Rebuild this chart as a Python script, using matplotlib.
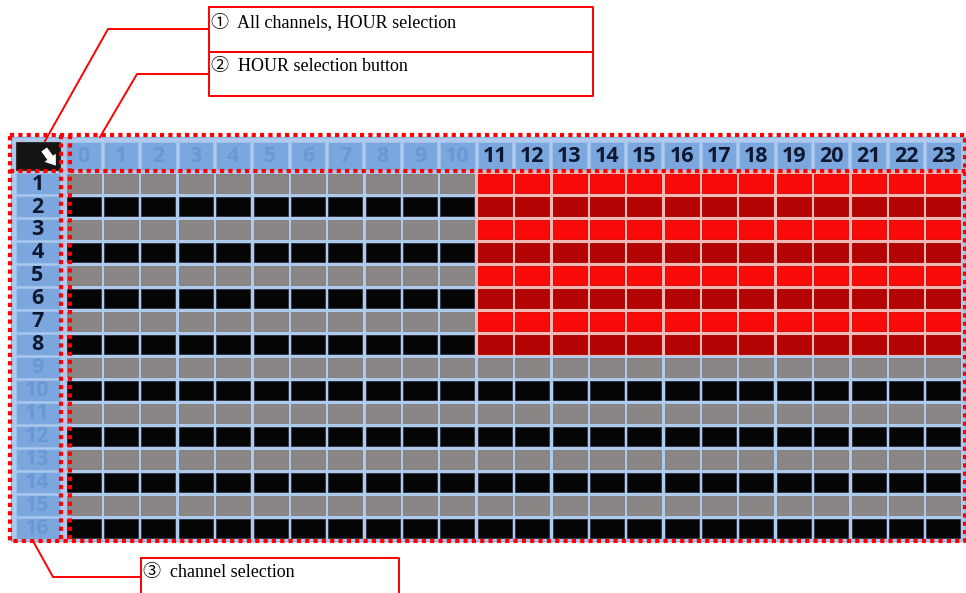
import matplotlib.pyplot as plt
from matplotlib.patches import Rectangle

# schedule grid: channels x hours
hours = [0, 1, 2, 3, 4, 5, 6, 7, 8, 9, 10, 11, 12, 13, 14, 15, 16, 17, 18, 19, 20, 21, 22, 23]
channels = [1, 2, 3, 4, 5, 6, 7, 8, 9, 10, 11, 12, 13, 14, 15, 16]
selected_hours = [11, 12, 13, 14, 15, 16, 17, 18, 19, 20, 21, 22, 23]
selected_channels = [1, 2, 3, 4, 5, 6, 7, 8]

callout_texts = ["①  All channels, HOUR selection",
                 "②  HOUR selection button",
                 "③  channel selection"]

W, H = 966, 593
fig = plt.figure(figsize=(W / 100, H / 100), dpi=100)

# grid axes: x in hour units, y in channel units, header/label strip at -1.35
off = 1.35
x0px, x1px, y0px, y1px = 14.5, 962, 141, 540
ax = fig.add_axes([x0px / W, 1 - y1px / H, (x1px - x0px) / W, (y1px - y0px) / H])
ax.set_xlim(-off, len(hours))
ax.set_ylim(len(channels), -off)
ax.axis('off')

line_blue = '#aecbee'
label_blue = '#7ba7de'
faded_txt = '#6a98d4'
dark_txt = '#0e1830'

# light blue background frame
ax.add_patch(Rectangle((-off - 0.09, -off - 0.17), len(hours) + off + 0.17, len(channels) + off + 0.2,
                       facecolor=line_blue, edgecolor='#8fb4e4', lw=1, clip_on=False, zorder=0))

# pinkish lines behind selected block
sx0 = hours.index(selected_hours[0])
sy0 = channels.index(selected_channels[0])
ax.add_patch(Rectangle((sx0 - 0.04, sy0 - 0.05), len(selected_hours) + 0.04, len(selected_channels) + 0.05,
                       facecolor='#f2b9b4', edgecolor='none', zorder=1))

gx, gy = 0.045, 0.09
for i, ch in enumerate(channels):
    for j, hr in enumerate(hours):
        sel = ch in selected_channels and hr in selected_hours
        if sel:
            c = '#fb0a0a' if ch % 2 == 1 else '#b30303'
            ec = '#d80000' if ch % 2 == 1 else '#a00000'
        else:
            c = '#8a8685' if ch % 2 == 1 else '#050505'
            ec = '#807d7e' if ch % 2 == 1 else '#2a3040'
        ax.add_patch(Rectangle((j + gx, i + gy), 1 - 2 * gx, 1 - 2 * gy,
                               facecolor=c, edgecolor=ec, lw=0.6, zorder=2))

# header row with hour buttons
for j, hr in enumerate(hours):
    ax.add_patch(Rectangle((j + 0.04, -off + 0.05), 0.92, off - 0.12,
                           facecolor=label_blue, edgecolor='#9cc0ea', lw=0.8, zorder=2, clip_on=False))
    col = dark_txt if hr in selected_hours else faded_txt
    ax.text(j + 0.5, -off / 2 - 0.02, str(hr), ha='center', va='center', fontsize=15.5,
            fontweight='bold', family='Open Sans', color=col, zorder=3)

# channel label column
for i, ch in enumerate(channels):
    ax.add_patch(Rectangle((-off + 0.05, i + 0.06), off - 0.17, 0.88,
                           facecolor=label_blue, edgecolor='#9cc0ea', lw=0.8, zorder=2, clip_on=False))
    col = dark_txt if ch in selected_channels else faded_txt
    ax.text(-off / 2 - 0.06, i + 0.52, str(ch), ha='center', va='center', fontsize=15.5,
            fontweight='bold', family='Open Sans', color=col, zorder=3)

# corner "all" button
ax.add_patch(Rectangle((-off + 0.05, -off + 0.06), off - 0.17, off - 0.14,
                       facecolor='#141414', edgecolor='#333333', lw=0.8, zorder=2, clip_on=False))
ax.annotate('', xy=(-0.2, -0.18), xytext=(-0.6, -1.08),
            arrowprops=dict(arrowstyle='simple,head_width=1.0,head_length=0.7,tail_width=0.5',
                            color='white', lw=0), zorder=3)

# overlay in pixel coordinates for callouts
ov = fig.add_axes([0, 0, 1, 1], facecolor='none')
ov.set_xlim(0, W)
ov.set_ylim(H, 0)
ov.axis('off')

dot = dict(color='#ff0000', lw=3, linestyle=(0, (1, 1)), solid_capstyle='butt', dash_capstyle='butt')
ov.plot([10, 965, 965, 10, 10], [135, 135, 541, 541, 135], **dot)
ov.plot([61, 61], [135, 541], **dot)
ov.plot([10, 61], [171, 171], **dot)
ov.plot([70, 965], [171, 171], **dot)
ov.plot([70, 70], [135, 541], **dot)

red = '#ff0000'
boxes = [(209, 7, 593, 52), (209, 52, 593, 96), (141, 558, 399, 600)]
for (bx0, by0, bx1, by1), txt in zip(boxes, callout_texts):
    ov.plot([bx0, bx1, bx1, bx0, bx0], [by0, by0, by1, by1, by0], color=red, lw=1.4, clip_on=False)
    ov.text(bx0 + 2, by0 + 15, txt, ha='left', va='center', fontsize=13,
            family=['Liberation Serif', 'Noto Sans CJK JP'], color='black')

ov.plot([209, 108, 45], [29, 29, 141], color=red, lw=1.4)
ov.plot([209, 137, 100], [74, 74, 137], color=red, lw=1.4)
ov.plot([33, 53, 141], [541, 577, 577], color=red, lw=1.4)

fig.savefig('out.png', dpi=100)
